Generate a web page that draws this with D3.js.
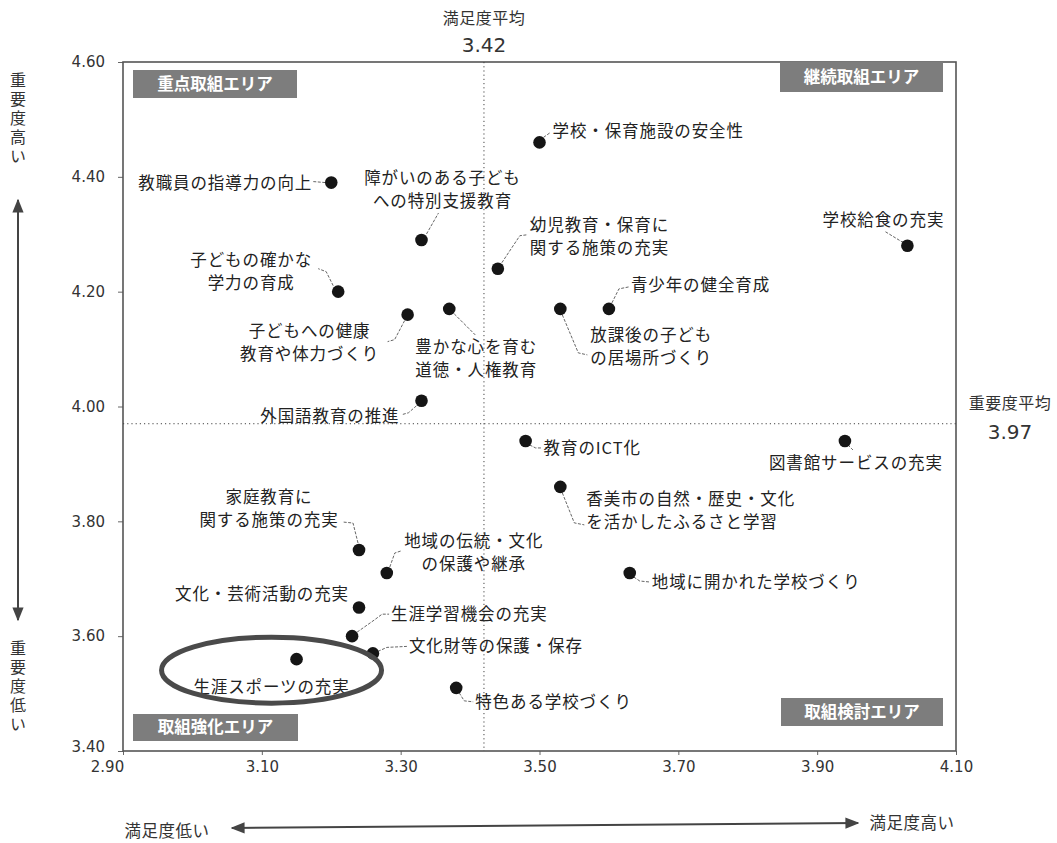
<!DOCTYPE html>
<html lang="ja">
<head>
<meta charset="utf-8">
<style>
  body { margin: 0; background: #fff; }
  svg { display: block; }
</style>
</head>
<body>
<svg></svg>
<script src="https://cdn.jsdelivr.net/npm/d3@7/dist/d3.min.js"></script>
<script>
// ---- data ----
const items = [
  "学校・保育施設の安全性", "教職員の指導力の向上", "障がいのある子ども\nへの特別支援教育",
  "幼児教育・保育に\n関する施策の充実", "学校給食の充実", "子どもの確かな\n学力の育成",
  "青少年の健全育成", "子どもへの健康\n教育や体力づくり", "豊かな心を育む\n道徳・人権教育",
  "放課後の子ども\nの居場所づくり", "外国語教育の推進", "教育のICT化", "図書館サービスの充実",
  "香美市の自然・歴史・文化\nを活かしたふるさと学習", "家庭教育に\n関する施策の充実",
  "地域の伝統・文化\nの保護や継承", "地域に開かれた学校づくり", "文化・芸術活動の充実",
  "生涯学習機会の充実", "文化財等の保護・保存", "生涯スポーツの充実", "特色ある学校づくり"
];
const satisfaction = [3.50, 3.20, 3.33, 3.44, 4.03, 3.21, 3.60, 3.31, 3.37, 3.53, 3.33,
                      3.48, 3.94, 3.53, 3.24, 3.28, 3.63, 3.24, 3.23, 3.26, 3.15, 3.38];
const importance   = [4.46, 4.39, 4.29, 4.24, 4.28, 4.20, 4.17, 4.16, 4.17, 4.17, 4.01,
                      3.94, 3.94, 3.86, 3.75, 3.71, 3.71, 3.65, 3.60, 3.57, 3.56, 3.51];
const xTicks = [2.9, 3.1, 3.3, 3.5, 3.7, 3.9, 4.1];
const yTicks = [3.4, 3.6, 3.8, 4.0, 4.2, 4.4, 4.6];
const meanSatisfaction = 3.42;
const meanImportance = 3.97;
const areaNames = ["重点取組エリア", "継続取組エリア", "取組強化エリア", "取組検討エリア"];
const highlighted = "生涯スポーツの充実";

// label placement relative to each point (layout only)
const labelLayout = [
  { dx: 13,  dy: -11, a: "start",  lead: [[4,-5],[11,-10]] },
  { dx: -19, dy: 0,   a: "end",    lead: [[-6,0],[-18,-1]] },
  { dx: 21,  dy: -62, a: "middle", lead: [[5,-6],[17,-27]] },
  { dx: 32,  dy: -44, a: "start",  lead: [[4,-6],[22,-33],[30,-34]] },
  { dx: -24, dy: -26, a: "middle", lead: [[-4,-3],[-22,-14]] },
  { dx: -87, dy: -32, a: "middle", lead: [[-5,-6],[-12,-20],[-20,-23]] },
  { dx: 22,  dy: -24, a: "start",  lead: [[3,-6],[10,-20],[20,-22]] },
  { dx: -98, dy: 16,  a: "middle", lead: [[-3,6],[-13,25],[-20,27]] },
  { dx: 27,  dy: 38,  a: "middle", lead: [[5,5],[26,26]] },
  { dx: 30,  dy: 26,  a: "start",  lead: [[2,6],[18,44],[27,46]] },
  { dx: -22, dy: 15,  a: "end",    lead: [[-5,5],[-13,12],[-20,14]] },
  { dx: 18,  dy: 7,   a: "start",  lead: [[4,4],[10,7],[16,7]] },
  { dx: 11,  dy: 22,  a: "middle", lead: [[3,4],[8,9]] },
  { dx: 26,  dy: 12,  a: "start",  lead: [[2,6],[14,36],[24,38]] },
  { dx: -90, dy: -53, a: "middle", lead: [[-1,-7],[-6,-27],[-16,-28]] },
  { dx: 87,  dy: -32, a: "middle", lead: [[3,-6],[8,-20],[14,-22]] },
  { dx: 22,  dy: 9,   a: "start",  lead: [[4,4],[10,8],[20,9]] },
  { dx: -10, dy: -13, a: "end",    lead: [] },
  { dx: 39,  dy: -22, a: "start",  lead: [[5,-4],[22,-16],[30,-22],[37,-22]] },
  { dx: 36,  dy: -7,  a: "start",  lead: [[5,-2],[14,-6],[34,-7]] },
  { dx: -25, dy: 28,  a: "middle", lead: [] },
  { dx: 19,  dy: 14,  a: "start",  lead: [[3,5],[8,13],[17,14]] }
];

const data = items.map((name, i) => ({ name, s: satisfaction[i], imp: importance[i], lay: labelLayout[i] }));

// ---- canvas ----
const W = 1057, H = 843;
const svg = d3.select("svg").attr("width", W).attr("height", H);
const jp = "'Noto Sans CJK JP', 'Noto Sans', sans-serif";
const num = "'DejaVu Sans', sans-serif";

const x = d3.scaleLinear().domain([2.9, 4.1]).range([123, 956]);
const y = d3.scaleLinear().domain([3.4, 4.6]).range([751, 62]);

const defs = svg.append("defs");
defs.append("marker").attr("id", "arrow")
    .attr("viewBox", "0 0 10 10").attr("refX", 9).attr("refY", 5)
    .attr("markerWidth", 7).attr("markerHeight", 7).attr("orient", "auto-start-reverse")
    .append("path").attr("d", "M0,1 L10,5 L0,9 Z").attr("fill", "#444");

// ---- axes ----
const yAxis = svg.append("g").attr("transform", `translate(${x(2.9)},0)`)
    .call(d3.axisLeft(y).tickValues(yTicks).tickFormat(d3.format(".2f")).tickSize(5).tickPadding(13));
const xAxis = svg.append("g").attr("transform", `translate(0,${y(3.4)})`)
    .call(d3.axisBottom(x).tickValues(xTicks).tickFormat(d3.format(".2f")).tickSize(4).tickPadding(6));
[xAxis, yAxis].forEach(g => {
  g.select(".domain").remove();
  g.selectAll(".tick line").attr("stroke", "#666");
  g.selectAll(".tick text").attr("font-family", num).attr("font-size", 15).attr("fill", "#333");
});
xAxis.selectAll(".tick text").attr("dx", d => d === 2.9 ? -16 : 0);
yAxis.selectAll(".tick text").attr("dy", d => d === 3.4 ? "0.05em" : "0.32em");

// ---- frame and mean lines ----
svg.append("rect")
    .attr("x", x(2.9)).attr("y", y(4.6))
    .attr("width", x(4.1) - x(2.9)).attr("height", y(3.4) - y(4.6))
    .attr("fill", "none").attr("stroke", "#555").attr("stroke-width", 1.6);

svg.append("line")
    .attr("x1", x(meanSatisfaction)).attr("x2", x(meanSatisfaction))
    .attr("y1", y(4.6)).attr("y2", y(3.4))
    .attr("stroke", "#444").attr("stroke-width", 1).attr("stroke-dasharray", "1.2,3");
svg.append("line")
    .attr("x1", x(2.9)).attr("x2", x(4.1))
    .attr("y1", y(meanImportance)).attr("y2", y(meanImportance))
    .attr("stroke", "#444").attr("stroke-width", 1).attr("stroke-dasharray", "1.2,3");

// mean captions
svg.append("text").attr("x", x(meanSatisfaction)).attr("y", 24).attr("text-anchor", "middle")
    .attr("font-family", jp).attr("font-size", 16).attr("letter-spacing", "0.5px")
    .attr("fill", "#333").text("満足度平均");
svg.append("text").attr("x", x(meanSatisfaction)).attr("y", 52).attr("text-anchor", "middle")
    .attr("font-family", num).attr("font-size", 20).attr("fill", "#333").text(meanSatisfaction.toFixed(2));
svg.append("text").attr("x", 1010).attr("y", y(meanImportance) - 15).attr("text-anchor", "middle")
    .attr("font-family", jp).attr("font-size", 16).attr("letter-spacing", "0.5px")
    .attr("fill", "#333").text("重要度平均");
svg.append("text").attr("x", 1010).attr("y", y(meanImportance) + 15).attr("text-anchor", "middle")
    .attr("font-family", num).attr("font-size", 20).attr("fill", "#333").text(meanImportance.toFixed(2));

// ---- area boxes ----
const boxes = [
  { x: 133, y: 70,  w: 164, h: 28 },
  { x: 780, y: 62,  w: 163, h: 30 },
  { x: 133, y: 714, w: 165, h: 27 },
  { x: 781, y: 698, w: 162, h: 28 }
];
areaNames.forEach((t, i) => {
  const b = boxes[i];
  svg.append("rect").attr("x", b.x).attr("y", b.y).attr("width", b.w).attr("height", b.h)
      .attr("fill", "#7d7d7d");
  svg.append("text").attr("x", b.x + b.w / 2).attr("y", b.y + b.h / 2).attr("dy", "0.35em")
      .attr("text-anchor", "middle").attr("font-family", jp).attr("font-size", 16.5)
      .attr("font-weight", "bold").attr("fill", "#fff").text(t);
});

// ---- leaders, points, labels ----
const pts = svg.append("g");
data.forEach(d => {
  const px = x(d.s), py = y(d.imp), L = d.lay;
  if (L.lead.length > 1) {
    pts.append("path")
        .attr("d", d3.line()(L.lead.map(p => [px + p[0], py + p[1]])))
        .attr("fill", "none").attr("stroke", "#555").attr("stroke-width", 0.9)
        .attr("stroke-dasharray", "3,1.5");
  }
  const lines = d.name.split("\n");
  const t = pts.append("text")
      .attr("font-family", jp).attr("font-size", 16.5).attr("letter-spacing", "0.9px")
      .attr("fill", "#222").attr("text-anchor", L.a);
  lines.forEach((ln, k) => {
    t.append("tspan").attr("x", px + L.dx).attr("y", py + L.dy + k * 23).attr("dy", "0.36em").text(ln);
  });
});
pts.selectAll("circle").data(data).join("circle")
    .attr("cx", d => x(d.s)).attr("cy", d => y(d.imp)).attr("r", 6.3)
    .attr("fill", "#151515");

// highlight ellipse around the sports item
const hi = data.find(d => d.name === highlighted);
svg.append("ellipse")
    .attr("cx", x(hi.s) - 25).attr("cy", y(hi.imp) + 11)
    .attr("rx", 110).attr("ry", 33)
    .attr("fill", "none").attr("stroke", "#4a4a4a").attr("stroke-width", 5);

// ---- direction arrows ----
const vText = (str, cx, top) => {
  svg.append("text").attr("x", cx).attr("y", top)
      .style("writing-mode", "vertical-rl")
      .attr("font-family", jp).attr("font-size", 16).attr("letter-spacing", "3px")
      .attr("fill", "#333").text(str);
};
vText("重要度高い", 18, 72);
vText("重要度低い", 18, 640);
svg.append("line").attr("x1", 18).attr("x2", 18).attr("y1", 200).attr("y2", 620)
    .attr("stroke", "#444").attr("stroke-width", 2)
    .attr("marker-start", "url(#arrow)").attr("marker-end", "url(#arrow)");

svg.append("text").attr("x", 167).attr("y", 831).attr("dy", "0.35em").attr("text-anchor", "middle")
    .attr("font-family", jp).attr("font-size", 16.5).attr("letter-spacing", "0.5px")
    .attr("fill", "#333").text("満足度低い");
svg.append("text").attr("x", 912).attr("y", 823).attr("dy", "0.35em").attr("text-anchor", "middle")
    .attr("font-family", jp).attr("font-size", 16.5).attr("letter-spacing", "0.5px")
    .attr("fill", "#333").text("満足度高い");
svg.append("line").attr("x1", 232).attr("x2", 858).attr("y1", 828).attr("y2", 823)
    .attr("stroke", "#444").attr("stroke-width", 2)
    .attr("marker-start", "url(#arrow)").attr("marker-end", "url(#arrow)");
</script>
</body>
</html>
